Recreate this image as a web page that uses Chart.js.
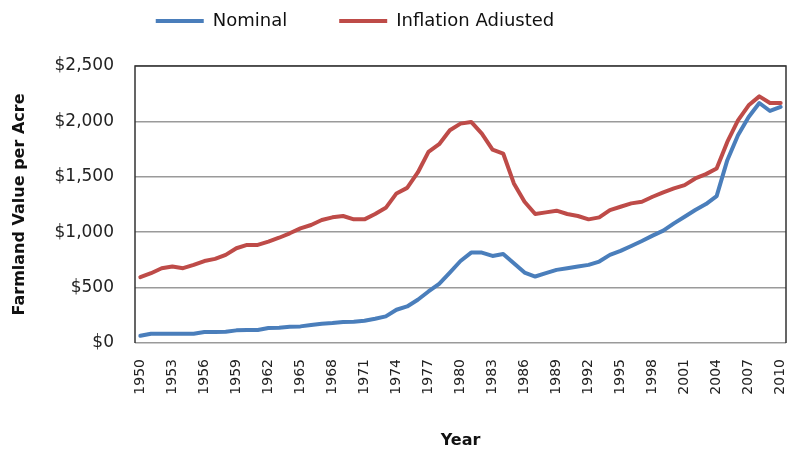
<!DOCTYPE html>
<html>
<head>
<meta charset="utf-8">
<script src="https://cdn.jsdelivr.net/npm/chart.js@4.4.1/dist/chart.umd.min.js"></script>
<style>
  body { margin: 0; background: #fff; }
</style>
</head>
<body>
<canvas id="myChart" width="787" height="452"></canvas>
<script>
// Farmland value per acre, 1950-2010
const years = [
  '1950','1951','1952','1953','1954','1955','1956','1957','1958','1959',
  '1960','1961','1962','1963','1964','1965','1966','1967','1968','1969',
  '1970','1971','1972','1973','1974','1975','1976','1977','1978','1979',
  '1980','1981','1982','1983','1984','1985','1986','1987','1988','1989',
  '1990','1991','1992','1993','1994','1995','1996','1997','1998','1999',
  '2000','2001','2002','2003','2004','2005','2006','2007','2008','2009','2010'
];

const nominal = [
  65, 84, 84, 84, 84, 84, 99, 99, 101, 114,
  117, 117, 135, 138, 147, 150, 162, 174, 180, 189,
  192, 201, 219, 240, 300, 330, 390, 465, 534, 636,
  740, 816, 816, 786, 804, 720, 636, 600, 630, 660,
  675, 690, 705, 735, 795, 831, 876, 921, 969, 1014,
  1080, 1140, 1200, 1254, 1326, 1650, 1875, 2040, 2166, 2094, 2130
];

const inflationAdjusted = [
  594, 630, 675, 690, 675, 705, 740, 759, 795, 855,
  885, 885, 915, 950, 990, 1035, 1065, 1110, 1134, 1146,
  1116, 1116, 1164, 1220, 1350, 1400, 1539, 1725, 1794, 1920,
  1980, 1995, 1890, 1746, 1710, 1440, 1275, 1164, 1179, 1194,
  1164, 1146, 1116, 1134, 1200, 1230, 1260, 1275, 1320, 1359,
  1395, 1425, 1485, 1524, 1575, 1815, 2010, 2145, 2226, 2166, 2166
];

const yTicks = [0, 500, 1000, 1500, 2000, 2500];

Chart.defaults.font.family = "'DejaVu Sans', sans-serif";
Chart.defaults.color = '#222';

// legend sits a bit left of centre in the original, and needs a fixed height
const LEGEND_DX = -38;
const LEGEND_DY = -40;
const legendTweak = {
  id: 'legendTweak',
  beforeInit(chart) {
    const legend = chart.legend;
    const fit = legend.fit;
    legend.fit = function () {
      fit.call(this);
      this.height = 66;
    };
    const draw = legend.draw;
    legend.draw = function () {
      const ctx = this.ctx;
      ctx.save();
      ctx.translate(LEGEND_DX, LEGEND_DY);
      draw.call(this);
      ctx.restore();
    };
  }
};

// dark frame around the plot area (top, left, right)
const plotFrame = {
  id: 'plotFrame',
  afterDatasetsDraw(chart) {
    const { ctx, chartArea: a } = chart;
    ctx.save();
    ctx.strokeStyle = '#333';
    ctx.lineWidth = 1.5;
    ctx.beginPath();
    ctx.moveTo(a.left, a.bottom);
    ctx.lineTo(a.left, a.top);
    ctx.lineTo(a.right, a.top);
    ctx.lineTo(a.right, a.bottom);
    ctx.stroke();
    ctx.restore();
  }
};

const ctx = document.getElementById('myChart').getContext('2d');

new Chart(ctx, {
  type: 'line',
  data: {
    labels: years,
    datasets: [
      {
        label: 'Nominal',
        data: nominal,
        borderColor: '#4a7ebb',
        backgroundColor: '#4a7ebb',
        borderWidth: 4,
        pointRadius: 0,
        tension: 0,
        borderJoinStyle: 'round',
        borderCapStyle: 'round',
      },
      {
        label: 'Inflation Adjusted',
        data: inflationAdjusted,
        borderColor: '#be4b48',
        backgroundColor: '#be4b48',
        borderWidth: 4,
        pointRadius: 0,
        tension: 0,
        borderJoinStyle: 'round',
        borderCapStyle: 'round',
      },
    ],
  },
  options: {
    responsive: false,
    animation: false,
    layout: { padding: { top: 0, right: 1, bottom: 0, left: 0 } },
    plugins: {
      legend: {
        display: true,
        position: 'top',
        labels: {
          usePointStyle: true,
          pointStyle: 'line',
          pointStyleWidth: 48,
          padding: 52,
          color: '#111',
          font: { size: 18 },
        },
      },
      tooltip: { enabled: false },
    },
    scales: {
      x: {
        offset: true,
        grid: { display: false },
        border: { display: false },
        ticks: {
          autoSkip: false,
          minRotation: 90,
          maxRotation: 90,
          padding: 8,
          font: { size: 14 },
          callback(val, i) {
            return i % 3 === 0 ? this.getLabelForValue(val) : '';
          },
        },
        title: {
          display: true,
          text: 'Year',
          font: { size: 16, weight: 'bold' },
          color: '#111',
          padding: { top: 0, bottom: 1.5 },
        },
        afterFit(scale) {
          scale.height = 109;
          scale.paddingLeft = 0;
          scale.paddingRight = 0;
        },
      },
      y: {
        min: 0,
        max: 2500,
        grid: { color: '#9a9a9a', lineWidth: 1.5, drawTicks: false },
        border: { display: false },
        afterBuildTicks(scale) { scale.ticks = yTicks.map(v => ({ value: v })); },
        ticks: {
          padding: 21,
          font: { size: 17 },
          callback: v => '$' + v.toLocaleString('en-US'),
        },
        title: {
          display: true,
          text: 'Farmland Value per Acre',
          font: { size: 16, weight: 'bold' },
          color: '#111',
          padding: { top: 10.4, bottom: 0 },
        },
        afterFit(scale) {
          scale.width = 135;
          scale.paddingTop = 0;
          scale.paddingBottom = 0;
        },
      },
    },
  },
  plugins: [legendTweak, plotFrame],
});
</script>
</body>
</html>
